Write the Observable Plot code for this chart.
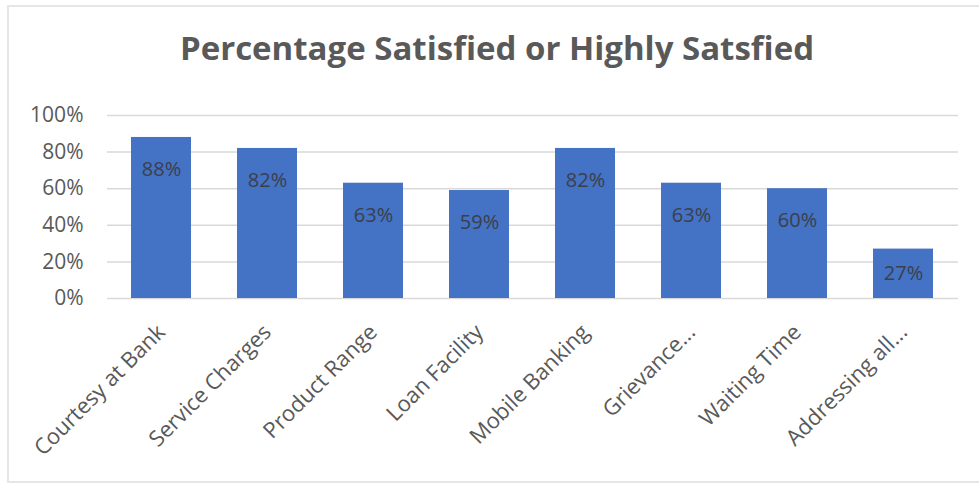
<!DOCTYPE html>
<html>
<head>
<meta charset="utf-8">
<script src="https://cdn.jsdelivr.net/npm/d3@7"></script>
<script src="https://cdn.jsdelivr.net/npm/@observablehq/plot@0.6"></script>
<style>
  body { margin: 0; background: #fff; font-family: "Open Sans", sans-serif; }
  #card { position: relative; width: 979px; height: 484px; overflow: hidden; }
  #frame { position: absolute; left: 7px; top: 5px; width: 990px; height: 478px;
           border: 2px solid #e6e6e6; box-sizing: border-box; }
  #title { position: absolute; top: 25px; left: 0; width: 994px; text-align: center;
           font-size: 33px; font-weight: 700; color: #595959; white-space: nowrap; }
  #chart { position: absolute; left: 0; top: 90px; }
</style>
</head>
<body>
<div id="card">
  <div id="frame"></div>
  <div id="title">Percentage Satisfied or Highly Satsfied</div>
  <div id="chart"></div>
</div>
<script>
// Survey aspects and share of customers satisfied or highly satisfied
const categories = [
  "Courtesy at Bank", "Service Charges", "Product Range", "Loan Facility",
  "Mobile Banking", "Grievance...", "Waiting Time", "Addressing all..."
];
const values = [0.88, 0.82, 0.63, 0.59, 0.82, 0.63, 0.60, 0.27];
const yTicks = [0, 0.2, 0.4, 0.6, 0.8, 1];

const data = categories.map((category, i) => ({category, value: values[i]}));
const pct = d3.format(".0%");

const chart = Plot.plot({
  width: 979,
  height: 394,
  marginTop: 25,
  marginBottom: 186,
  marginLeft: 107,
  marginRight: 21,
  style: {fontFamily: "Open Sans, sans-serif", fontSize: "21px", color: "#595959", background: "transparent"},
  x: {domain: categories, paddingInner: 0.43, paddingOuter: 0.215, label: null},
  y: {domain: [0, 1], label: null},
  marks: [
    Plot.gridY(yTicks, {stroke: "#d9d9d9", strokeOpacity: 1, strokeWidth: 1.5}),
    Plot.barY(data, {x: "category", y: "value", fill: "#4472c4"}),
    // value labels sit inside each bar, near its top
    Plot.text(data, {
      x: "category",
      y: d => Math.max(d.value - 0.175, d.value / 2),
      text: d => pct(d.value),
      fill: "#3b3f4a",
      fontSize: 20
    }),
    Plot.axisY(yTicks, {tickFormat: pct, tickSize: 0, tickPadding: 24, fontSize: 21, label: null}),
    Plot.axisX({tickRotate: -45, tickSize: 0, tickPadding: 30, fontSize: 22, label: null})
  ]
});
document.getElementById("chart").append(chart);
</script>
</body>
</html>
